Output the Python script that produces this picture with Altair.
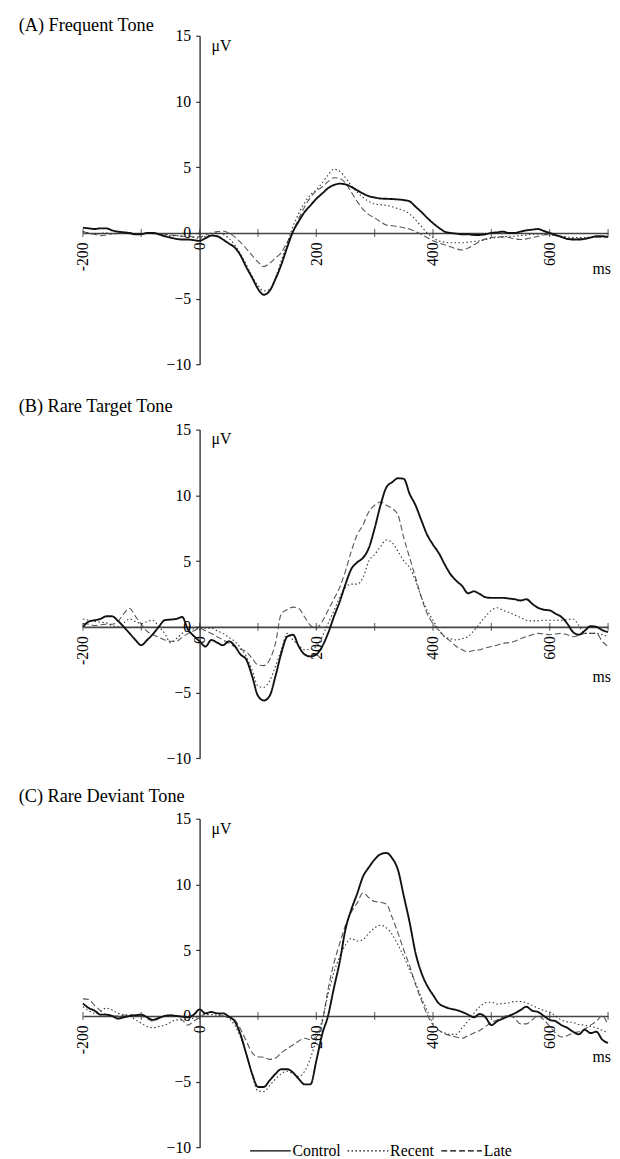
import altair as alt
import pandas as pd

FONT = "Liberation Serif"
MS = list(range(-200, 701, 10))
SERIES = ["Control", "Recent", "Late"]
X_TICKS = [-200, -100, 0, 100, 200, 300, 400, 500, 600, 700]
X_LABELS = [-200, 0, 200, 400, 600]
Y_LABELS = [-10, -5, 0, 5, 10, 15]
TITLES = ["(A) Frequent Tone", "(B) Rare Target Tone", "(C) Rare Deviant Tone"]

A_CONTROL = [0.4, 0.35, 0.3, 0.35, 0.35, 0.2, 0.1, 0.05, 0.0, -0.1, -0.1, 0.0, 0.0, -0.1, -0.25, -0.35, -0.45, -0.5, -0.5, -0.55,
             -0.6, -0.4, -0.2, -0.25, -0.5, -0.8, -1.1, -1.7, -2.6, -3.4, -4.25, -4.7, -4.4, -3.5, -2.4, -1.1, 0.1, 0.9, 1.6, 2.1,
             2.6, 3.0, 3.4, 3.65, 3.75, 3.7, 3.5, 3.25, 3.0, 2.8, 2.7, 2.62, 2.6, 2.58, 2.55, 2.5, 2.4, 2.0, 1.6, 1.15,
             0.75, 0.4, 0.1, 0.0, -0.05, -0.1, -0.1, -0.15, -0.15, -0.1, 0.0, 0.05, 0.1, 0.0, 0.0, 0.1, 0.2, 0.25, 0.3, 0.15,
             0.0, -0.15, -0.3, -0.45, -0.5, -0.5, -0.45, -0.35, -0.25, -0.25, -0.3]
A_RECENT = [0.1, 0.0, -0.1, -0.05, 0.0, -0.05, -0.05, 0.0, 0.0, -0.05, -0.05, 0.0, -0.05, -0.1, -0.15, -0.2, -0.2, -0.25, -0.3, -0.35,
            -0.4, -0.25, -0.1, 0.0, -0.1, -0.4, -0.9, -1.6, -2.4, -3.3, -4.0, -4.4, -4.3, -3.4, -2.1, -0.8, 0.5, 1.5, 2.3, 2.9,
            3.3, 3.8, 4.4, 4.85, 4.7, 4.2, 3.6, 3.1, 2.7, 2.4, 2.2, 2.15, 2.1, 2.0, 1.85, 1.7, 1.45, 1.0, 0.5, 0.0,
            -0.35, -0.6, -0.7, -0.75, -0.75, -0.75, -0.7, -0.65, -0.6, -0.5, -0.4, -0.35, -0.3, -0.25, -0.25, -0.2, -0.15, -0.1, -0.1, -0.1,
            -0.15, -0.2, -0.25, -0.3, -0.35, -0.35, -0.35, -0.3, -0.3, -0.3, -0.3]
A_LATE = [0.1, 0.0, -0.1, -0.2, -0.15, -0.05, 0.0, 0.0, -0.05, -0.1, -0.05, 0.0, 0.0, -0.05, -0.1, -0.15, -0.2, -0.25, -0.25, -0.3,
          -0.3, -0.15, 0.0, 0.1, 0.15, 0.0, -0.3, -0.7, -1.2, -1.7, -2.2, -2.55, -2.3, -1.9, -1.5, -0.7, 0.1, 1.1, 2.0, 2.7,
          3.2, 3.5, 3.9, 4.2, 4.15, 3.8, 3.1, 2.4, 1.8, 1.4, 1.15, 0.85, 0.6, 0.55, 0.5, 0.4, 0.3, 0.1, -0.1, -0.35,
          -0.6, -0.75, -0.9, -1.05, -1.2, -1.3, -1.15, -0.9, -0.65, -0.45, -0.35, -0.3, -0.3, -0.35, -0.45, -0.5, -0.45, -0.35, -0.25, -0.15,
          -0.1, -0.2, -0.3, -0.4, -0.45, -0.45, -0.4, -0.35, -0.3, -0.3, -0.3]

B_CONTROL = [0.0, 0.4, 0.5, 0.6, 0.8, 0.8, 0.45, 0.0, -0.5, -1.0, -1.4, -1.0, -0.55, 0.0, 0.5, 0.55, 0.6, 0.75, -0.2, -0.7,
             -1.1, -1.5, -1.0, -1.2, -1.4, -1.1, -1.45, -2.1, -2.5, -3.75, -5.25, -5.6, -5.25, -3.75, -2.0, -0.75, -0.6, -1.5, -2.1, -2.25,
             -2.1, -1.5, -0.5, 0.75, 1.9, 3.25, 4.4, 4.9, 5.25, 6.0, 7.5, 9.25, 10.6, 11.0, 11.3, 11.25, 10.1, 9.25, 8.1, 7.0,
             6.25, 5.6, 4.75, 4.0, 3.5, 3.1, 2.55, 2.7, 2.5, 2.25, 2.2, 2.2, 2.2, 2.15, 2.1, 2.0, 2.1, 1.75, 1.45, 1.3,
             1.25, 1.0, 0.75, 0.25, -0.4, -0.6, -0.3, 0.05, 0.0, -0.25, -0.4]
B_RECENT = [0.6, 0.5, 0.4, 0.35, 0.3, 0.1, 0.0, 0.3, 0.6, 0.4, 0.25, 0.4, 0.5, 0.0, -0.5, -1.2, -0.9, -0.5, -0.25, -0.15,
            -0.1, -0.1, -0.1, -0.3, -0.5, -0.8, -1.1, -1.6, -2.25, -3.3, -4.5, -4.6, -4.1, -3.0, -1.75, -0.5, -1.0, -1.4, -1.75, -1.7,
            -1.5, -0.75, 0.25, 1.2, 2.25, 3.0, 3.25, 3.25, 3.75, 5.0, 5.5, 6.1, 6.6, 6.4, 5.75, 5.0, 4.5, 3.5, 2.25, 1.25,
            0.5, -0.25, -0.75, -0.9, -1.0, -0.9, -0.75, -0.3, 0.25, 0.8, 1.25, 1.45, 1.25, 1.1, 0.9, 0.7, 0.5, 0.45, 0.45, 0.5,
            0.5, 0.5, 0.5, 0.55, 0.6, 0.1, -0.5, -0.5, -0.5, -0.6, -0.75]
B_LATE = [0.25, 0.2, 0.1, 0.15, 0.2, 0.2, 0.4, 1.0, 1.4, 0.8, 0.2, -0.35, -0.6, -0.8, -1.0, -1.1, -1.1, -0.8, -0.5, -0.3,
          -0.1, -0.3, -0.5, -0.75, -1.0, -1.25, -1.5, -1.7, -1.9, -2.4, -2.9, -2.95, -2.5, -1.25, 1.0, 1.3, 1.5, 1.4, 0.75, 0.1,
          -0.1, 0.4, 1.25, 2.1, 3.0, 4.25, 5.75, 7.0, 7.75, 8.75, 9.25, 9.5, 9.25, 9.0, 8.5, 6.75, 5.25, 3.75, 2.25, 1.0,
          0.25, -0.25, -0.75, -1.1, -1.5, -1.75, -1.9, -1.8, -1.75, -1.6, -1.5, -1.4, -1.25, -1.2, -1.1, -0.9, -0.75, -0.6, -0.5, -0.55,
          -0.6, -0.55, -0.5, -0.6, -0.75, -0.65, -0.5, -0.5, -0.5, -1.1, -1.5]

C_CONTROL = [0.95, 0.6, 0.4, 0.1, 0.1, 0.0, -0.2, -0.1, 0.0, 0.05, 0.1, -0.1, -0.3, -0.15, 0.0, 0.05, 0.0, -0.05, -0.1, 0.1,
             0.5, 0.2, 0.3, 0.2, 0.2, -0.05, -0.4, -1.4, -2.9, -4.4, -5.4, -5.4, -4.9, -4.4, -4.05, -4.05, -4.3, -4.8, -5.2, -5.2,
             -3.4, -1.4, 0.0, 2.1, 4.1, 6.6, 8.1, 9.3, 10.6, 11.3, 11.9, 12.3, 12.4, 12.0, 11.1, 9.1, 7.1, 4.8, 3.3, 2.3,
             1.6, 0.95, 0.7, 0.55, 0.45, 0.3, 0.1, -0.1, 0.15, -0.1, -0.7, -0.4, -0.2, 0.0, 0.2, 0.45, 0.7, 0.4, 0.3, 0.0,
             -0.3, -0.4, -0.7, -0.9, -1.2, -1.4, -1.05, -1.3, -1.2, -1.8, -2.05]
C_RECENT = [0.7, 0.4, 0.2, 0.35, 0.6, 0.45, 0.2, 0.1, 0.0, -0.3, -0.55, -0.8, -0.9, -0.8, -0.7, -0.5, -0.3, -0.3, -0.3, -0.15,
            0.0, 0.1, 0.1, 0.05, 0.0, -0.2, -0.7, -1.6, -2.9, -4.5, -5.7, -5.75, -5.3, -4.8, -4.4, -4.2, -4.4, -4.6, -4.2, -3.2,
            -1.8, -0.3, 1.6, 3.3, 4.5, 5.4, 5.9, 5.7, 5.8, 6.3, 6.7, 6.9, 6.7, 6.2, 5.4, 4.5, 3.5, 2.5, 1.4, 0.4,
            -0.6, -1.1, -1.3, -1.4, -1.4, -0.9, -0.4, 0.2, 0.7, 1.0, 1.05, 0.9, 0.95, 1.0, 1.1, 1.1, 1.0, 0.8, 0.6, 0.4,
            0.3, 0.0, -0.3, -0.45, -0.5, -0.65, -0.7, -0.8, -0.9, -1.1, -1.3]
C_LATE = [1.3, 1.25, 0.8, 0.4, 0.1, 0.0, 0.0, 0.05, 0.1, 0.05, 0.0, -0.2, -0.4, -0.2, 0.0, 0.05, 0.0, -0.3, -0.7, -0.4,
          -0.1, 0.2, 0.3, 0.2, 0.0, -0.1, -0.3, -1.0, -1.9, -2.8, -3.1, -3.15, -3.3, -3.2, -2.8, -2.5, -2.2, -1.9, -1.7, -1.8,
          -1.6, -0.5, 2.0, 4.0, 5.5, 6.9, 7.9, 8.6, 9.35, 9.0, 8.7, 8.65, 8.5, 7.5, 6.3, 5.0, 3.8, 2.4, 1.2, 0.1,
          -0.7, -1.1, -1.35, -1.5, -1.6, -1.7, -1.5, -1.3, -1.1, -0.8, -0.5, -0.3, -0.1, 0.1, -0.2, -0.6, -0.6, -0.3, 0.0, -0.3,
          -0.8, -1.3, -1.6, -1.5, -1.3, -1.2, -1.0, -0.7, -0.4, 0.0, -0.7]

DASHES = [[1, 0], [1.5, 2.5], [6, 3]]
STYLE = {"Control": ("#111111", 1.9), "Recent": ("#333333", 1.1), "Late": ("#555555", 1.1)}

X_SCALE = alt.Scale(domain=[-200, 700], nice=False, zero=False)
Y_SCALE = alt.Scale(domain=[-10, 15], nice=False, zero=False)
DASH_SCALE = alt.Scale(domain=SERIES, range=DASHES)

X_AXIS = alt.Axis(values=X_LABELS, offset=-133.3, title=None, grid=False, ticks=False,
                  labelAngle=270, labelAlign="right", labelBaseline="middle", labelPadding=9,
                  labelExpr="toString(datum.value)", labelOverlap=False, labelFlush=False,
                  domainColor="#444444", domainWidth=1.6)
Y_AXIS = alt.Axis(values=Y_LABELS, offset=-118.3, title=None, grid=False, tickSize=4,
                  tickColor="#333333", tickWidth=1.2, labelPadding=5, labelOverlap=False,
                  labelFlush=False, domainColor="#333333", domainWidth=1.4)

LEGEND = alt.Legend(orient="none", legendX=168.5, legendY=1109, direction="horizontal", title=None,
                    symbolType="stroke", symbolSize=1700, symbolStrokeWidth=1.3, symbolStrokeColor="black",
                    labelFont=FONT, labelFontSize=16, labelColor="black", labelOffset=1, columnPadding=4,
                    padding=0)


def panel(title, ctrl, rec, late, title_dy, ms_dy):
    x = alt.X("ms:Q", scale=X_SCALE, axis=X_AXIS)
    y = alt.Y("uv:Q", scale=Y_SCALE, axis=Y_AXIS)
    layers = []
    for name, vals in (("Late", late), ("Recent", rec), ("Control", ctrl)):
        color, width = STYLE[name]
        df = pd.DataFrame({"ms": MS, "uv": vals, "series": [name] * len(MS)})
        layers.append(
            alt.Chart(df).mark_line(interpolate="monotone", color=color, strokeWidth=width).encode(
                x=x, y=y, strokeDash=alt.StrokeDash("series:N", scale=DASH_SCALE, legend=LEGEND))
        )
    ticks = alt.Chart(pd.DataFrame({"ms": X_TICKS, "uv": [0] * len(X_TICKS)})).mark_tick(
        orient="vertical", size=8, thickness=1.2, color="#333333").encode(x=x, y=y)
    uv = alt.Chart(pd.DataFrame({"ms": [0], "uv": [15], "t": ["μV"]})).mark_text(
        align="left", baseline="middle", dx=12, dy=10, font=FONT, fontSize=16, color="black").encode(
        x=x, y=y, text="t:N")
    msl = alt.Chart(pd.DataFrame({"ms": [700], "uv": [0], "t": ["ms"]})).mark_text(
        align="right", baseline="middle", dx=3, dy=ms_dy, font=FONT, fontSize=16, color="black").encode(
        x=x, y=y, text="t:N")
    ttl = alt.Chart(pd.DataFrame({"ms": [-200], "uv": [15], "t": [title]})).mark_text(
        align="left", baseline="middle", dx=-65.2, dy=title_dy, font=FONT, fontSize=18.5, color="black").encode(
        x=x, y=y, text="t:N")
    return alt.layer(*layers, ticks, uv, msl, ttl).properties(width=532.5, height=333.3)


pa = panel(TITLES[0], A_CONTROL, A_RECENT, A_LATE, -11, 37)
pb = panel(TITLES[1], B_CONTROL, B_RECENT, B_LATE, -23.7, 51)
pc = panel(TITLES[2], C_CONTROL, C_RECENT, C_LATE, -22.7, 42)

inner = alt.vconcat(pa, pb, spacing=65.4, bounds="flush")
chart = alt.vconcat(inner, pc, spacing=21, bounds="full").properties(
    padding={"left": 10, "top": 0, "right": 0, "bottom": 0}
).configure_view(stroke=None).configure_axis(
    labelFont=FONT, labelFontSize=16, labelColor="black"
)

chart.save("out.html", embed_options={"renderer": "svg", "actions": False})
